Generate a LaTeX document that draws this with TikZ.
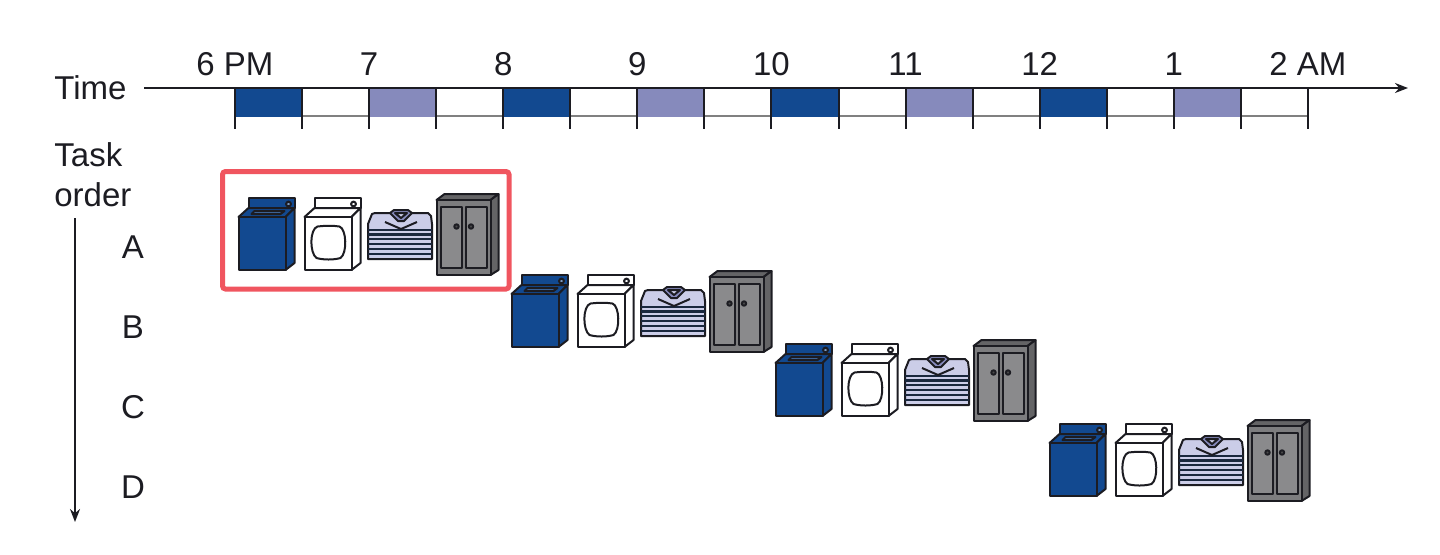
\documentclass[tikz,border=0pt]{standalone}
\usepackage{fontspec}
\setmainfont{Liberation Sans}
\usetikzlibrary{arrows.meta, calc}
\definecolor{cWash}{RGB}{18,73,144}
\definecolor{cDry}{RGB}{134,138,188}
\definecolor{cFold}{RGB}{203,205,232}
\definecolor{cStore}{RGB}{125,125,127}
\definecolor{cFrame}{RGB}{240,85,95}
\definecolor{cInk}{RGB}{28,28,34}
\newcommand{\machinebody}[1]{
	\draw[icon, fill=#1] (10,0) rectangle (56,10);
	\draw[icon, fill=#1] (0,19) -- (10,10) -- (56,10) -- (47,19) -- cycle;
	\draw[icon, fill=#1] (47,19) -- (56,10) -- (56,65) -- (47,72) -- cycle;
	\draw[icon, fill=#1] (0,19) rectangle (47,72);
}
\tikzset{
	icon/.style={draw=cInk, line width=1pt, line join=round},
	axislabel/.style={font=\fontsize{16.5}{18}\selectfont, text=cInk, inner sep=0pt},
	washer/.pic={
		\machinebody{cWash}
		\draw[icon, fill=cWash!80!white] (13,16) -- (16,13) -- (46,13) -- (42,16) -- cycle;
		\draw[icon, fill=cWash!55!white] (50,6) circle[radius=2.4];
	},
	dryer/.pic={
		\machinebody{white}
		\draw[icon, fill=white] (49,6) circle[radius=2.4];
		\draw[icon] (13,28.5) .. controls (22,27.5) and (28,27.5) .. (35,28.5)
			.. controls (42,31) and (43,55) .. (36,60)
			.. controls (29,62) and (19,62) .. (12,60)
			.. controls (5,55) and (5,31) .. (13,28.5) -- cycle;
	},
	folded/.pic={
		\draw[icon, fill=cFold] (0,14) -- (4,4) -- (7,3) -- (60,3) -- (63,6) -- (64,14) -- (64,49) -- (0,49) -- cycle;
		\foreach \yy in {20,24.5,29,34,39,44} {
			\draw[cInk!75!cWash, line width=1.1pt] (0,\yy) -- (64,\yy);
		}
		\draw[icon, fill=cDry] (22,3) -- (26,0) -- (40,0) -- (44,3) -- (36,11) -- (30,11) -- cycle;
		\draw[icon, fill=cFold] (27,3) -- (39,3) -- (33,8) -- cycle;
		\draw[icon] (17,12) -- (33,19) -- (49,12);
	},
	closet/.pic={
		\draw[icon, fill=cStore!80!black] (0,6) -- (8,0) -- (62,0) -- (54,6) -- cycle;
		\draw[icon, fill=cStore!80!black] (54,6) -- (62,0) -- (62,76) -- (54,81) -- cycle;
		\draw[icon, fill=cStore] (0,6) rectangle (54,81);
		\draw[icon, fill=cStore!90!white] (4.5,12.5) rectangle (25.5,74);
		\draw[icon, fill=cStore!90!white] (29.5,12.5) rectangle (50.5,74);
		\draw[icon, fill=cStore!60!black] (20,32.5) circle[radius=2.2];
		\draw[icon, fill=cStore!60!black] (34.5,32.5) circle[radius=2.2];
	}
}
\begin{document}
\begin{tikzpicture}[x=0.5pt, y=-0.5pt]
	\useasboundingbox (0,0) rectangle (1440,554);
	\draw[gray, line width=0.9pt] (235,116) -- (1308,116);
	\foreach \n/\c in {0/cWash, 2/cDry, 4/cWash, 6/cDry, 8/cWash, 10/cDry, 12/cWash, 14/cDry} {
		\pgfmathsetmacro{\xx}{235+67.06*\n}
		\fill[\c] (\xx,88) rectangle ++(67.06,29);
	}
	\foreach \n in {0,...,16} {
		\pgfmathsetmacro{\xx}{235+67.06*\n}
		\draw[cInk, line width=1pt] (\xx,88) -- (\xx,129);
	}
	\foreach \n/\l in {0/{6 PM}, 2/7, 4/8, 6/9, 8/10, 10/11, 12/12, 14/1, 16/{2 AM}} {
		\pgfmathsetmacro{\xx}{235+67.06*\n}
		\node[axislabel] (hour\n) at (\xx,64) {\l};
	}
	\node[axislabel, anchor=west] (time) at (54,88) {Time};
	\node[axislabel, anchor=west] (task) at (54,155) {Task};
	\node[axislabel, anchor=west] (order) at (54,195) {order};
	\coordinate (timestart) at (144,88);
	\coordinate (timeend) at (1408,88);
	\coordinate (orderstart) at (75,218);
	\coordinate (orderend) at (75,522);
	\draw[cInk, line width=1pt, -{Stealth[length=6.5pt, width=5pt]}] (timestart) -- (timeend);
	\draw[cInk, line width=1pt, -{Stealth[length=6.5pt, width=5pt]}] (orderstart) -- (orderend);
	\foreach \l/\dx/\dy/\yy in {A/0/0/247, B/273/77/327, C/537/146/407, D/811/226/487} {
		\node[axislabel] (row\l) at (133,\yy) {\l};
		\pic at (238.5+\dx,198+\dy) {washer};
		\pic at (304.5+\dx,198+\dy) {dryer};
		\pic at (368+\dx,210+\dy) {folded};
		\pic at (436.5+\dx,194+\dy) {closet};
	}
	\draw[cFrame, line width=2.5pt, rounded corners=1.5pt] (222.5,171.5) rectangle (509,289);
\end{tikzpicture}
\end{document}
